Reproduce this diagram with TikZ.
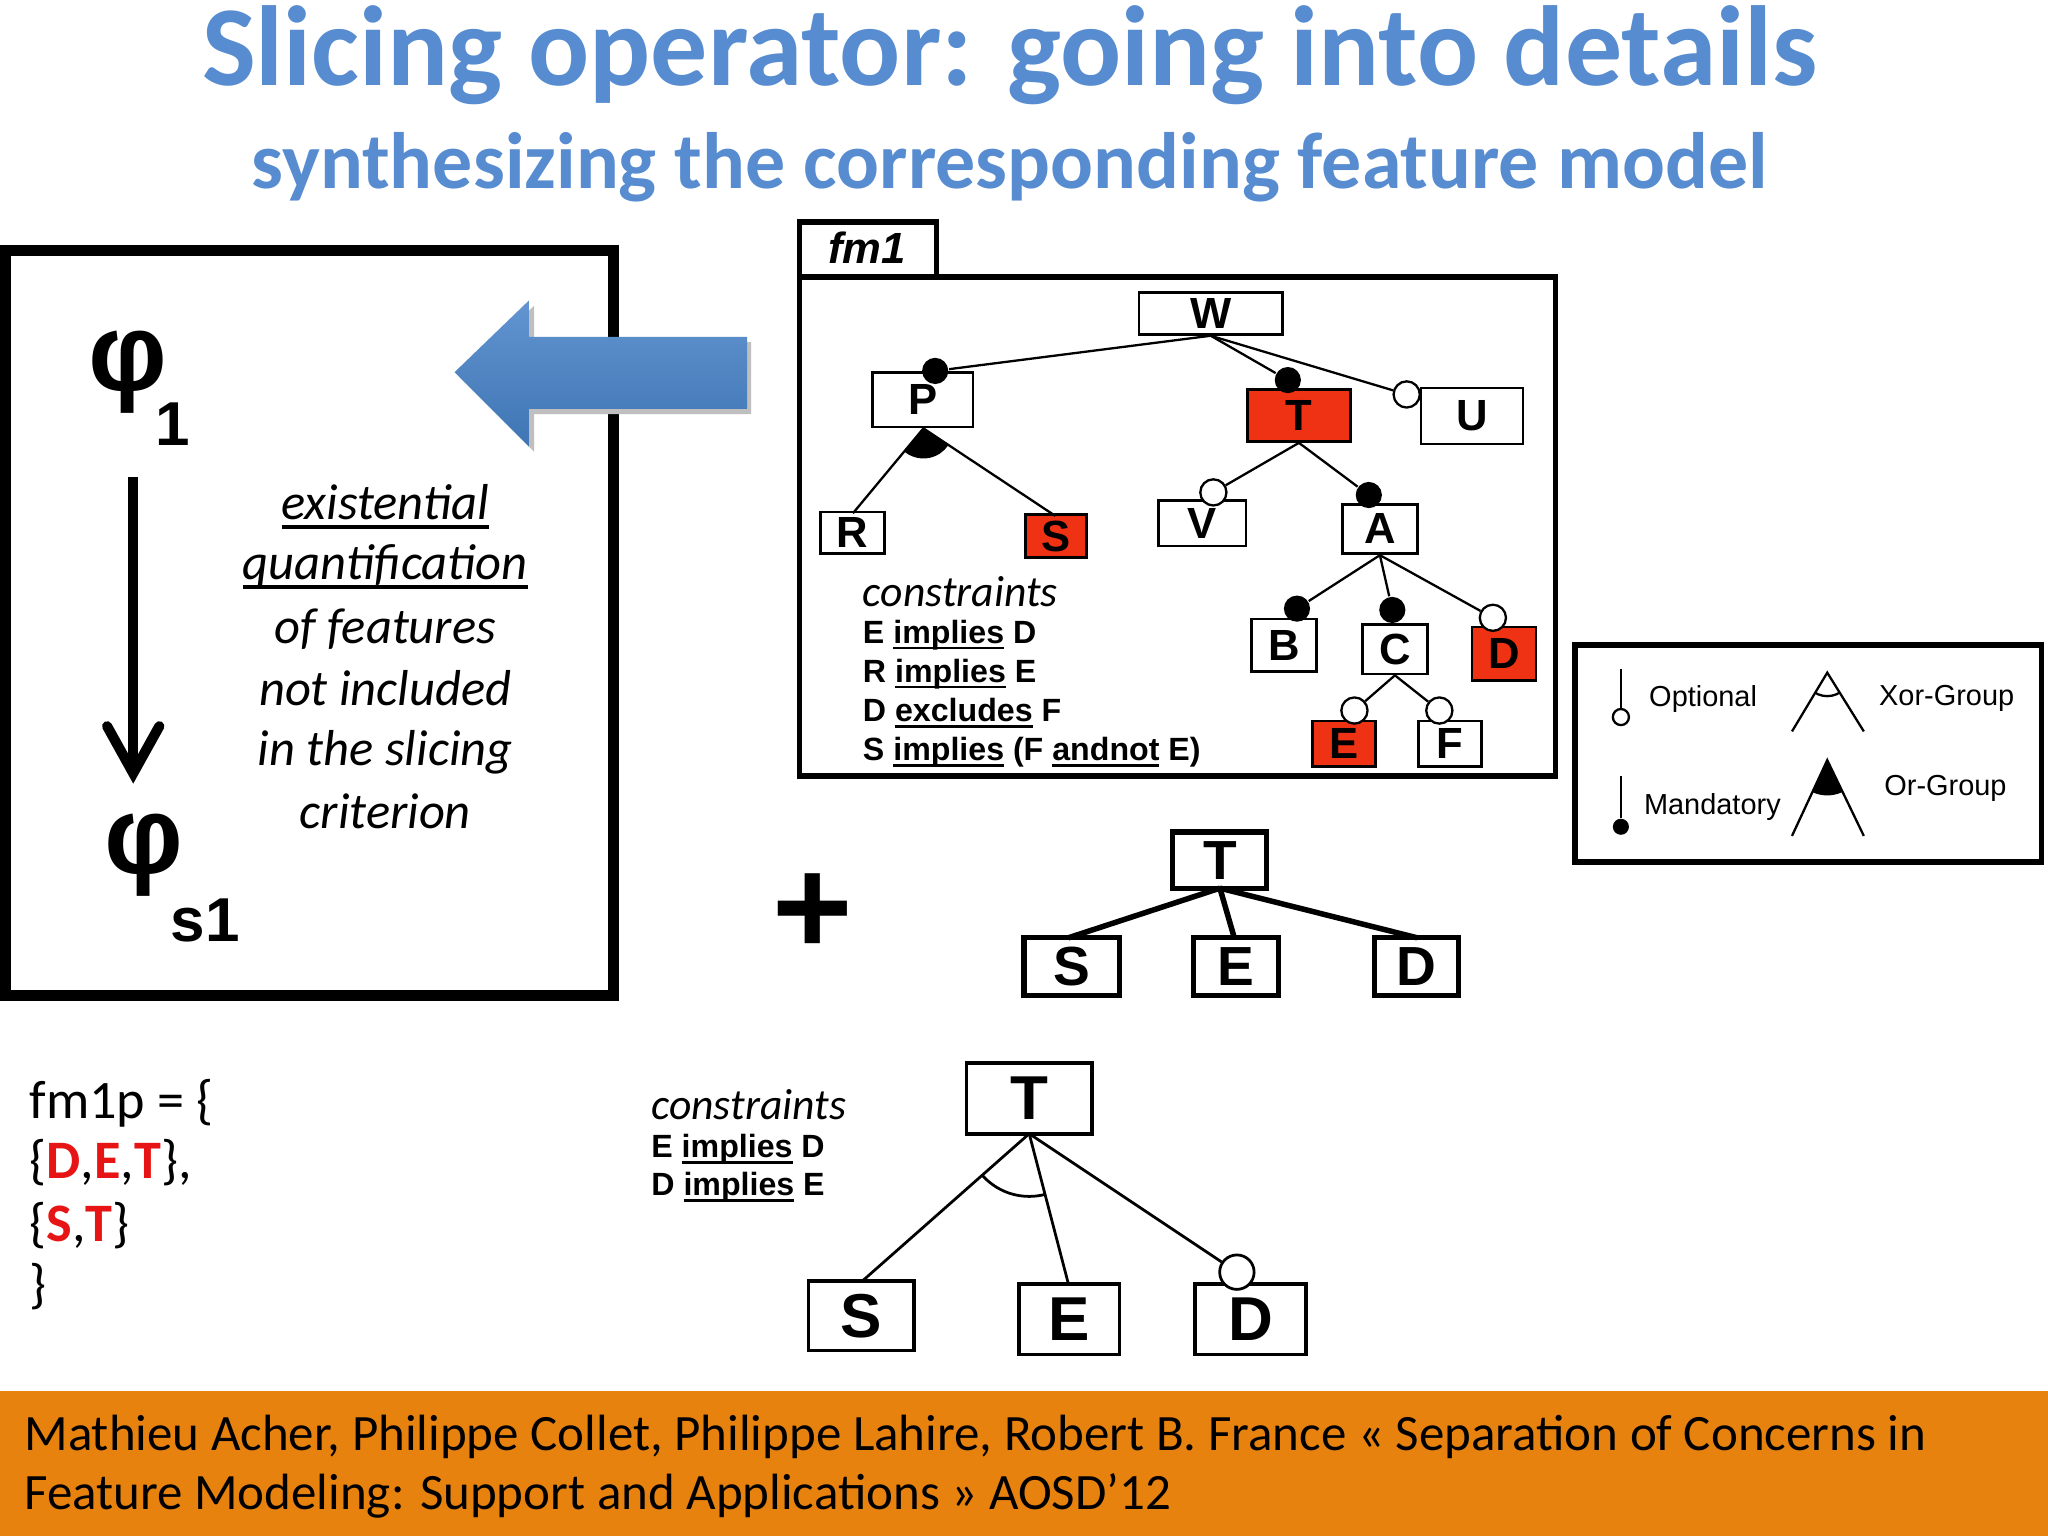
\documentclass[tikz,border=0pt]{standalone}
\usepackage{fontspec}
\setmainfont{Carlito}
\newfontfamily\arialf{Liberation Sans}
\usetikzlibrary{fit,calc}
\newcommand{\myul}[1]{\leavevmode\setbox0\hbox{#1}\rlap{\vrule height -0.11em depth 0.19em width \wd0}\box0\relax}
\definecolor{tblue}{RGB}{88,140,208}
\definecolor{ablue}{RGB}{70,130,200}
\definecolor{fred}{RGB}{240,50,20}
\definecolor{forange}{RGB}{232,130,14}
\definecolor{tred}{RGB}{230,20,20}
\tikzset{
 fbox/.style={draw,line width=0.6pt,inner sep=0pt,fill=white},
 flab/.style={font=\arialf\bfseries\fontsize{9.5}{10}\selectfont},
 mand/.style={circle,fill=black,inner sep=0pt,minimum size=5.7pt},
 opt/.style={circle,draw,fill=white,line width=0.5pt,inner sep=0pt,minimum size=5.7pt},
 ed/.style={line width=0.5pt},
 cons/.style={anchor=west,font=\arialf\bfseries\fontsize{7}{8}\selectfont,inner sep=0pt},
 itx/.style={font=\itshape\fontsize{11}{12}\selectfont},
}
\newcommand{\fb}[6]{\node[fbox,fill=#6,fit={(#2,#3)(#4,#5)}] (#1) {};\node[flab] at (#1) {#1};}
\begin{document}
\begin{tikzpicture}[x=0.01cm,y=-0.01cm]
\path[use as bounding box,fill=white] (0,0) rectangle (1568,1176);
% title
\node[text=tblue,font=\bfseries\fontsize{24.8}{28}\selectfont] (title) at (773,42) {Slicing operator: going into details};
\node[text=tblue,font=\bfseries\fontsize{17.4}{20}\selectfont] (sub) at (773,128) {synthesizing the corresponding feature model};
% big box
\draw[line width=2.4pt] (4,192) rectangle (470,762);
\node[font=\arialf\bfseries\fontsize{24}{24}\selectfont] (phi1) at (98,285) {φ};
\node[font=\arialf\bfseries\fontsize{13.5}{14}\selectfont] (one) at (132,325) {1};
\node[font=\arialf\bfseries\fontsize{24}{24}\selectfont] (phis) at (110,655) {φ};
\node[font=\arialf\bfseries\fontsize{13.5}{14}\selectfont] (s1) at (157,705) {s1};
\coordinate (a1) at (102,365); \coordinate (a2) at (102,592);
\draw[line width=2.2pt] (a1) -- (a2);
\draw[line width=2.2pt,line cap=round] (82,556) -- (a2) -- (122,556);
\node[itx] (t1) at (295,388) {\myul{existential}};
\node[itx] (t2) at (295,434) {\myul{quantification}};
\node[itx] (t3) at (295,482) {of features};
\node[itx] (t4) at (295,527) {not included};
\node[itx] (t5) at (295,576) {in the slicing};
\node[itx] (t6) at (295,621) {criterion};
% blue arrow
\fill[black!25] (352,289) -- (409,234) -- (409,262) -- (575,262) -- (575,317) -- (409,317) -- (409,346) -- cycle;
\shade[top color=ablue!85!white,bottom color=ablue!90!black] (348,285) -- (405,230) -- (405,258) -- (572,258) -- (572,313) -- (405,313) -- (405,342) -- cycle;
% fm1
\draw[line width=1.2pt] (612,170) rectangle (717,212);
\node[font=\arialf\bfseries\itshape\fontsize{9.5}{10}\selectfont] (fmname) at (664,190) {fm1};
\draw[line width=1.2pt] (612,212) rectangle (1191,594);
\fb{W}{872}{224}{982}{256}{white}
\fb{P}{668}{285}{745}{327}{white}
\fb{T}{955}{298}{1034}{338}{fred}
\fb{U}{1088}{297}{1166}{340}{white}
\fb{R}{628}{392}{677}{424}{white}
\fb{S}{785}{394}{832}{427}{fred}
\fb{V}{887}{383}{954}{418}{white}
\fb{A}{1028}{386}{1085}{424}{white}
\fb{B}{958}{474}{1008}{514}{white}
\fb{C}{1043}{478}{1093}{516}{white}
\fb{D}{1127}{480}{1176}{521}{fred}
\fb{E}{1005}{552}{1053}{587}{fred}
\fb{F}{1086}{552}{1134}{587}{white}
\coordinate (Pa) at (707,328);
\coordinate (Rt) at (653,393); \coordinate (St) at (808,395);
\begin{scope}\clip (Pa) -- (Rt) -- (St) -- cycle; \fill (Pa) circle (23);\end{scope}
\draw[ed] (Pa) -- (Rt); \draw[ed] (Pa) -- (St);
\node[mand] (dP) at (716,284) {};
\node[mand] (dT) at (986,291) {};
\node[opt] (oU) at (1077,302) {};
\node[opt] (oV) at (929,377) {};
\node[mand] (dA) at (1048,379) {};
\node[mand] (dB) at (993,466) {};
\node[mand] (dC) at (1066,467) {};
\node[opt] (oD) at (1143,473) {};
\node[opt] (oE) at (1037,544) {};
\node[opt] (oF) at (1102,544) {};
\draw[ed] (W.south) -- (dP); \draw[ed] (W.south) -- (dT); \draw[ed] (W.south) -- (oU);
\draw[ed] (T.south) -- (oV); \draw[ed] (T.south) -- (dA);
\draw[ed] (A.south) -- (dB); \draw[ed] (A.south) -- (dC); \draw[ed] (A.south) -- (oD);
\draw[ed] (C.south) -- (oE); \draw[ed] (C.south) -- (oF);
\node[anchor=west,font=\itshape\fontsize{9.5}{10}\selectfont,inner sep=0pt] (ct) at (660,453) {constraints};
\node[cons] (c1) at (660,486) {E \myul{implies} D};
\node[cons] (c2) at (660,516) {R \myul{implies} E};
\node[cons] (c3) at (660,546) {D \myul{excludes} F};
\node[cons] (c4) at (660,576) {S \myul{implies} (F \myul{andnot} E)};
% legend
\draw[line width=1.2pt] (1206,494) rectangle (1563,660);
\tikzset{lg/.style={anchor=west,font=\arialf\fontsize{6.3}{7}\selectfont,inner sep=0pt}}
\node[opt,minimum size=3.5pt] (lo) at (1241,549) {};
\draw[ed] (1241,512) -- (lo);
\node[mand,minimum size=3.5pt] (lm) at (1241,633) {};
\draw[ed] (1241,594) -- (lm);
\node[lg] (lot) at (1262,535) {Optional};
\node[lg] (lmt) at (1258,618) {Mandatory};
\coordinate (xa) at (1399,515);
\draw[ed] (1372,560) -- (xa) -- (1427,560);
\begin{scope}\clip (xa) -- (1372,560) -- (1427,560) -- cycle; \draw[ed] (xa) circle (18);\end{scope}
\coordinate (oa) at (1399,582);
\draw[ed] (1372,640) -- (oa) -- (1427,640);
\begin{scope}\clip (oa) -- (1372,640) -- (1427,640) -- cycle; \fill (oa) circle (27);\end{scope}
\node[lg] (xt) at (1438,535) {Xor-Group};
\node[lg] (ot) at (1442,604) {Or-Group};
% plus
\node[font=\arialf\bfseries\fontsize{30}{30}\selectfont] (plus) at (622,700) {+};
% middle tree
\tikzset{mlab/.style={font=\arialf\bfseries\fontsize{12}{12}\selectfont}}
\node[fbox,line width=1.1pt,fit={(898,637)(970,680)}] (mT) {}; \node[mlab] at (mT) {T};
\node[fbox,line width=1.1pt,fit={(784,718)(857,762)}] (mS) {}; \node[mlab] at (mS) {S};
\node[fbox,line width=1.1pt,fit={(914,718)(979,762)}] (mE) {}; \node[mlab] at (mE) {E};
\node[fbox,line width=1.1pt,fit={(1052,718)(1117,762)}] (mD) {}; \node[mlab] at (mD) {D};
\coordinate (mt) at (934,680);
\draw[line width=1.2pt] (mt) -- (818,718); \draw[line width=1.2pt] (mt) -- (945,718); \draw[line width=1.2pt] (mt) -- (1085,718);
% fm1p
\tikzset{fp/.style={anchor=west,font=\fontsize{11.8}{13}\selectfont,inner sep=0pt}}
\node[fp] (f1) at (22,845) {fm1p = \{};
\node[fp] (f2) at (22,890) {\{\textcolor{tred}{\bfseries D},\textcolor{tred}{\bfseries E},\textcolor{tred}{\bfseries T}\},};
\node[fp] (f3) at (22,938) {\{\textcolor{tred}{\bfseries S},\textcolor{tred}{\bfseries T}\}};
\node[fp] (f4) at (22,985) {\}};
% bottom constraints
\node[anchor=west,font=\itshape\fontsize{9.5}{10}\selectfont,inner sep=0pt] (bct) at (498,846) {constraints};
\node[cons] (b1) at (498,880) {E \myul{implies} D};
\node[cons] (b2) at (498,909) {D \myul{implies} E};
% bottom tree
\tikzset{blab/.style={font=\arialf\bfseries\fontsize{13.5}{14}\selectfont}}
\node[fbox,line width=0.8pt,fit={(740,814)(836,868)}] (bT) {}; \node[blab] at (bT) {T};
\node[fbox,line width=0.8pt,fit={(619,981)(700,1034)}] (bS) {}; \node[blab] at (bS) {S};
\node[fbox,line width=0.8pt,fit={(780,983)(857,1037)}] (bE) {}; \node[blab] at (bE) {E};
\node[fbox,line width=0.8pt,fit={(915,983)(1000,1037)}] (bD) {}; \node[blab] at (bD) {D};
\coordinate (bt) at (788,868);
\coordinate (bs) at (660,981); \coordinate (be) at (818,983);
\begin{scope}\clip (bt) -- (bs) -- (be) -- cycle; \draw[line width=0.6pt] (bt) circle (48);\end{scope}
\draw[line width=0.6pt] (bt) -- (bs); \draw[line width=0.6pt] (bt) -- (be);
\node[opt,minimum size=7.5pt,line width=0.6pt] (bo) at (947,974) {};
\draw[line width=0.6pt] (bt) -- (bo);
% footer
\fill[forange] (0,1065) rectangle (1568,1176);
\tikzset{ft/.style={anchor=west,font=\fontsize{11.1}{13}\selectfont,inner sep=0pt}}
\node[ft] (ft1) at (18,1100) {Mathieu Acher, Philippe Collet, Philippe Lahire, Robert B. France « Separation of Concerns in};
\node[ft] (ft2) at (18,1145) {Feature Modeling: Support and Applications » AOSD’12};
\end{tikzpicture}
\end{document}
